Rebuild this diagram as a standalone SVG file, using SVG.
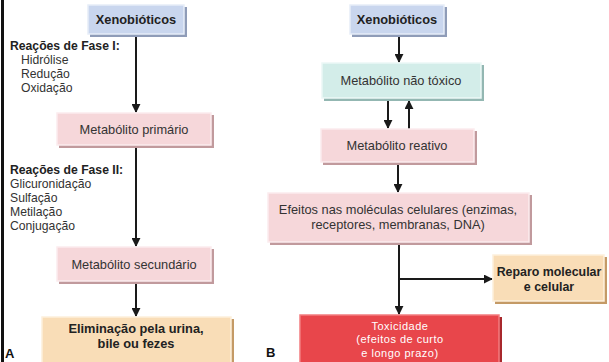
<svg xmlns="http://www.w3.org/2000/svg" width="609" height="362" viewBox="0 0 609 362">
<style>
text{font-family:"Liberation Sans",Arial,Helvetica,sans-serif;font-size:12.8px;fill:#333}
.c{text-anchor:middle}
.b{font-weight:bold;fill:#222}
.li{font-size:12.2px}
.w{fill:#fff;font-size:11px;letter-spacing:0.5px}
.rp{font-size:12.4px}
.lbl{font-weight:bold;font-size:13px;fill:#111}
.blue .f{fill:#c9d6ee;stroke:#e6edf8}
.blue .s{fill:#8f9cb8}
.pink .f{fill:#f6d7da;stroke:#fbecee}
.pink .s{fill:#c19a9d}
.cyan .f{fill:#d3ede9;stroke:#ecf8f6}
.cyan .s{fill:#93b7b2}
.peach .f{fill:#f9ddb7;stroke:#fdf0dc}
.peach .s{fill:#c49a66}
.red .f{fill:#e8464b;stroke:#f27c7f}
.red .s{fill:#a8282c}
.f{stroke-width:1.5}
.ln{stroke:#1a1a1a;stroke-width:2;fill:none}
</style>
<defs>
<marker id="ah" viewBox="0 0 10 10" refX="9" refY="5" markerWidth="4.5" markerHeight="4.5" orient="auto" markerUnits="strokeWidth">
<path d="M0,0 L10,5 L0,10 Z" fill="#1a1a1a"/>
</marker>
</defs>
<rect x="0" y="0" width="609" height="362" fill="#fff"/>
<rect x="1" y="0" width="3" height="362" fill="#111"/>

<g id="connectors">
<line class="ln" x1="136" y1="35" x2="136" y2="112" marker-end="url(#ah)"/>
<line class="ln" x1="136" y1="146" x2="136" y2="246" marker-end="url(#ah)"/>
<line class="ln" x1="136" y1="283" x2="136" y2="316" marker-end="url(#ah)"/>
<line class="ln" x1="399" y1="35" x2="399" y2="62" marker-end="url(#ah)"/>
<line class="ln" x1="388" y1="100" x2="388" y2="128" marker-end="url(#ah)"/>
<line class="ln" x1="409" y1="129" x2="409" y2="101" marker-end="url(#ah)"/>
<line class="ln" x1="398" y1="163" x2="398" y2="192" marker-end="url(#ah)"/>
<line class="ln" x1="399" y1="243" x2="399" y2="314" marker-end="url(#ah)"/>
<line class="ln" x1="399" y1="279" x2="492" y2="279" marker-end="url(#ah)"/>
</g>

<g id="xenoA" class="blue">
<rect class="s" x="90" y="7" width="97" height="30"/>
<rect class="f" x="88" y="5" width="96" height="29"/>
<text class="c b" x="136" y="24">Xenobióticos</text>
</g>

<g id="fase1">
<text class="b li" x="10" y="50">Reações de Fase I:</text>
<text class="li" x="21" y="64">Hidrólise</text>
<text class="li" x="21" y="78">Redução</text>
<text class="li" x="21" y="92">Oxidação</text>
</g>

<g id="primA" class="pink">
<rect class="s" x="59" y="115" width="155" height="33"/>
<rect class="f" x="57" y="113" width="154" height="32"/>
<text class="c" x="134" y="134">Metabólito primário</text>
</g>

<g id="fase2">
<text class="b li" x="10" y="174">Reações de Fase II:</text>
<text class="li" x="10" y="188">Glicuronidação</text>
<text class="li" x="10" y="202">Sulfação</text>
<text class="li" x="10" y="216">Metilação</text>
<text class="li" x="10" y="230">Conjugação</text>
</g>

<g id="secA" class="pink">
<rect class="s" x="59" y="249" width="155" height="35"/>
<rect class="f" x="57" y="247" width="154" height="34"/>
<text class="c" x="134" y="269">Metabólito secundário</text>
</g>

<g id="elimA" class="peach">
<rect class="s" x="44" y="319" width="190" height="50"/>
<rect class="f" x="42" y="317" width="189" height="50"/>
<text class="c b" x="136" y="333">Eliminação pela urina,</text>
<text class="c b" x="136" y="348">bile ou fezes</text>
</g>

<text class="lbl" x="5" y="358">A</text>

<g id="xenoB" class="blue">
<rect class="s" x="352" y="7" width="95" height="30"/>
<rect class="f" x="350" y="5" width="94" height="29"/>
<text class="c b" x="397" y="24">Xenobióticos</text>
</g>

<g id="naoToxico" class="cyan">
<rect class="s" x="324" y="65" width="160" height="36"/>
<rect class="f" x="322" y="63" width="159" height="35"/>
<text class="c" x="401" y="85">Metabólito não tóxico</text>
</g>

<g id="reativo" class="pink">
<rect class="s" x="323" y="131" width="154" height="34"/>
<rect class="f" x="321" y="129" width="153" height="33"/>
<text class="c" x="397" y="150">Metabólito reativo</text>
</g>

<g id="efeitos" class="pink">
<rect class="s" x="270" y="195" width="262" height="50"/>
<rect class="f" x="268" y="193" width="261" height="49"/>
<text class="c" x="398" y="214">Efeitos nas moléculas celulares (enzimas,</text>
<text class="c" x="398" y="229">receptores, membranas, DNA)</text>
</g>

<g id="reparo" class="peach">
<rect class="s" x="495" y="257" width="112" height="47"/>
<rect class="f" x="493" y="255" width="111" height="46"/>
<text class="c b rp" x="549" y="276">Reparo molecular</text>
<text class="c b rp" x="549" y="291">e celular</text>
</g>

<g id="toxicidade" class="red">
<rect class="s" x="302" y="317" width="200" height="50"/>
<rect class="f" x="300" y="315" width="199" height="50"/>
<text class="c w" x="400" y="330">Toxicidade</text>
<text class="c w" x="400" y="343">(efeitos de curto</text>
<text class="c w" x="400" y="357">e longo prazo)</text>
</g>

<text class="lbl" x="266" y="357">B</text>
</svg>
